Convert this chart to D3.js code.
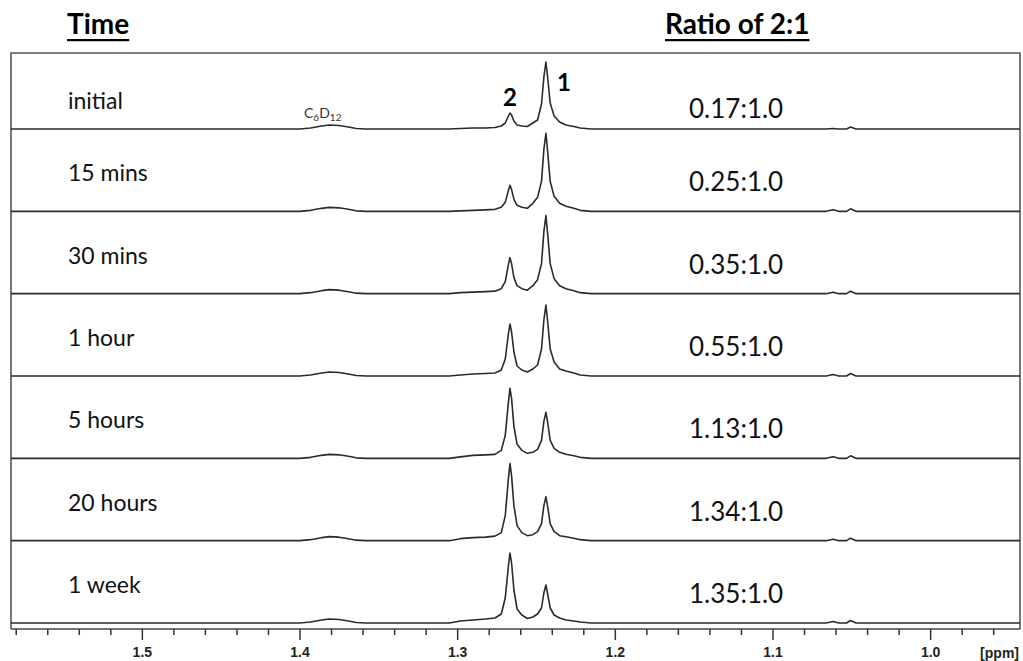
<!DOCTYPE html>
<html>
<head>
<meta charset="utf-8">
<script src="https://cdn.jsdelivr.net/npm/d3@7"></script>
<style>
  body { margin: 0; background: #fff; }
  svg { display: block; }
</style>
</head>
<body>
<svg id="chart" width="1023" height="661"></svg>
<script>
// time points and the measured ratio of 2:1
const times = ["initial", "15 mins", "30 mins", "1 hour", "5 hours", "20 hours", "1 week"];
const ratios = ["0.17:1.0", "0.25:1.0", "0.35:1.0", "0.55:1.0", "1.13:1.0", "1.34:1.0", "1.35:1.0"];

// shared chemical shift grid (ppm)
const ppm = [1.583, 1.400, 1.393, 1.386, 1.381, 1.375, 1.369, 1.364, 1.358,
  1.305, 1.298, 1.290, 1.282, 1.276,
  1.272, 1.2695, 1.2675, 1.2665, 1.2655, 1.264, 1.262, 1.259, 1.2555,
  1.252, 1.249, 1.2465, 1.245, 1.2437, 1.2425, 1.241, 1.2385, 1.235, 1.231, 1.226, 1.222, 1.215,
  1.066, 1.0615, 1.058, 1.053, 1.0505, 1.047, 0.943];

// intensities for each time point (same order as ppm)
const initial = [0, 0, 1, 3, 4, 3.5, 2, 0.5, 0,  0, 0.5, 1, 1, 1.5,
  3, 6, 13, 16, 14, 8, 4, 3, 2.5,  6, 9, 25, 52, 67, 50, 26, 13, 7, 4, 2.5, 1, 0,
  0, 0.5, 0, 0, 2, 0, 0];
const min15 = [0, 0, 1, 3, 4, 3.5, 2, 0.5, 0,  0, 0.5, 1, 1.5, 2,
  4, 9, 21, 26, 22, 12, 6, 4, 3,  8, 14, 30, 62, 78, 58, 30, 15, 8, 5, 3, 1, 0,
  0, 1.5, 0, 0, 2.5, 0, 0];
const min30 = [0, 0, 1, 3, 4, 3.5, 2, 0.5, 0,  0, 1, 1.5, 2, 2.5,
  5, 12, 29, 36, 30, 16, 8, 5, 3.5,  8, 14, 30, 62, 78, 58, 30, 15, 8, 5, 3, 1, 0,
  0, 1.5, 0, 0, 2.5, 0, 0];
const hour1 = [0, 0, 1, 3, 4, 3.5, 2, 0.5, 0,  0, 1, 2, 2.5, 3,
  6, 17, 42, 52, 44, 24, 10, 6, 4,  7, 11, 27, 56, 71, 53, 27, 14, 7, 5, 3, 1, 0,
  0, 1.5, 0, 0, 2.5, 0, 0];
const hours5 = [0, 0, 1, 3, 4, 3.5, 2, 0.5, 0,  0, 1.5, 3, 3.5, 4,
  8, 23, 56, 70, 60, 32, 14, 8, 5,  6, 9, 18, 37, 46, 35, 18, 10, 6, 4, 2.5, 1, 0,
  0, 1.5, 0, 0, 2.5, 0, 0];
const hours20 = [0, 0, 1, 3, 4, 3.5, 2, 0.5, 0,  0, 2, 3, 3.5, 4.5,
  8, 25, 62, 77, 65, 35, 15, 8, 5,  6, 9, 17, 35, 44, 33, 17, 9, 5, 4, 2.5, 1, 0,
  0, 1.5, 0, 0, 2.5, 0, 0];
const week1 = [0, 0, 1, 3, 4, 3.5, 2, 0.5, 0,  0, 2, 3, 4, 5,
  9, 25, 57, 70, 60, 33, 14, 8, 4.5,  6, 9, 15, 30, 38, 28, 15, 8, 5, 3, 2, 1, 0,
  0, 1.5, 0, 0, 2.5, 0, 0];
const spectra = [initial, min15, min30, hour1, hours5, hours20, week1];

// peak labels
const peakLabels = [{ name: "2", ppm: 1.2665 }, { name: "1", ppm: 1.2405 }];

const axisTicks = d3.range(0, 32).map(i => +(1.58 - i * 0.02).toFixed(2));

const svg = d3.select("#chart");
const frameL = 11, frameR = 1020, frameT = 53, axisY = 629;

const x = d3.scaleLinear().domain([1.583, 0.943]).range([frameL, frameR]);
const rowBase = d3.scalePoint().domain(times).range([129, 623]);
const rowH = 82.3;

// frame
svg.append("path")
  .attr("d", `M${frameL},${axisY}V${frameT}H${frameR}V${axisY}`)
  .attr("fill", "none")
  .attr("stroke", "#555")
  .attr("stroke-width", 1.6);

// headings
const heads = [{ t: "Time", x: 67 }, { t: "Ratio of 2:1", x: 665 }];
heads.forEach(h => {
  const txt = svg.append("text")
    .attr("x", h.x).attr("y", 34)
    .style("font-family", "Lato, 'Open Sans', sans-serif")
    .style("font-weight", "bold")
    .style("font-size", "28px")
    .attr("fill", "#000")
    .text(h.t);
  const w = txt.node().getComputedTextLength();
  svg.append("rect")
    .attr("x", h.x).attr("y", 39).attr("width", w).attr("height", 2.2)
    .attr("fill", "#000");
});

// spectra
const line = d3.line().curve(d3.curveLinear);
times.forEach((t, i) => {
  const y = d3.scaleLinear().domain([0, rowH]).range([rowBase(t), rowBase(t) - rowH]);
  const pts = ppm.map((p, k) => [x(p), y(spectra[i][k])]);
  svg.append("path")
    .attr("d", line(pts))
    .attr("fill", "none")
    .attr("stroke", "#2a2a2a")
    .attr("stroke-width", 1.6)
    .attr("stroke-linejoin", "round");

  svg.append("text")
    .attr("x", 68).attr("y", rowBase(t) - (i === 0 ? 20 : 30))
    .style("font-family", "Lato, 'Open Sans', sans-serif")
    .style("font-size", "23px")
    .attr("fill", "#111")
    .text(t);

  svg.append("text")
    .attr("x", 689).attr("y", rowBase(t) - (i === 0 ? 11 : 20))
    .style("font-family", "Lato, 'Open Sans', sans-serif")
    .style("font-size", "26px")
    .attr("fill", "#111")
    .text(ratios[i]);
});

// peak numbers on the first trace
svg.selectAll(".peak")
  .data(peakLabels)
  .enter().append("text")
  .attr("class", "peak")
  .attr("x", d => x(d.ppm) + (d.name === "1" ? 13 : 0))
  .attr("y", d => d.name === "1" ? 91 : 106)
  .attr("text-anchor", "middle")
  .style("font-family", "Lato, 'Open Sans', sans-serif")
  .style("font-weight", "bold")
  .style("font-size", "24px")
  .attr("fill", "#000")
  .text(d => d.name);

// solvent label
const solv = svg.append("text")
  .attr("x", 304).attr("y", 118)
  .style("font-family", "Lato, 'Open Sans', sans-serif")
  .style("font-size", "14px")
  .attr("fill", "#333");
solv.append("tspan").text("C");
solv.append("tspan").attr("dy", 3).style("font-size", "10px").text("6");
solv.append("tspan").attr("dy", -3).text("D");
solv.append("tspan").attr("dy", 3).style("font-size", "10px").text("12");

// ppm axis
const isMajor = d => Math.abs(d * 10 - Math.round(d * 10)) < 1e-6;
const axis = svg.append("g")
  .attr("transform", `translate(0,${axisY})`)
  .call(d3.axisBottom(x)
    .tickValues(axisTicks)
    .tickSize(6)
    .tickFormat(d => isMajor(d) ? d3.format(".1f")(d) : ""));
axis.select(".domain").remove();
axis.selectAll(".tick line")
  .attr("stroke", "#333")
  .attr("stroke-width", 1.5)
  .attr("y2", d => isMajor(d) ? 11 : 6);
axis.selectAll(".tick text")
  .attr("y", 18)
  .style("font-family", "'Liberation Sans', Arial, sans-serif")
  .style("font-weight", "bold")
  .style("font-size", "14px")
  .attr("fill", "#222");
axis.append("line")
  .attr("x1", frameL).attr("x2", frameR)
  .attr("stroke", "#444").attr("stroke-width", 1.6);

svg.append("text")
  .attr("x", 1019).attr("y", 658)
  .attr("text-anchor", "end")
  .style("font-family", "'Liberation Sans', Arial, sans-serif")
  .style("font-weight", "bold")
  .style("font-size", "14px")
  .attr("fill", "#222")
  .text("[ppm]");
</script>
</body>
</html>
